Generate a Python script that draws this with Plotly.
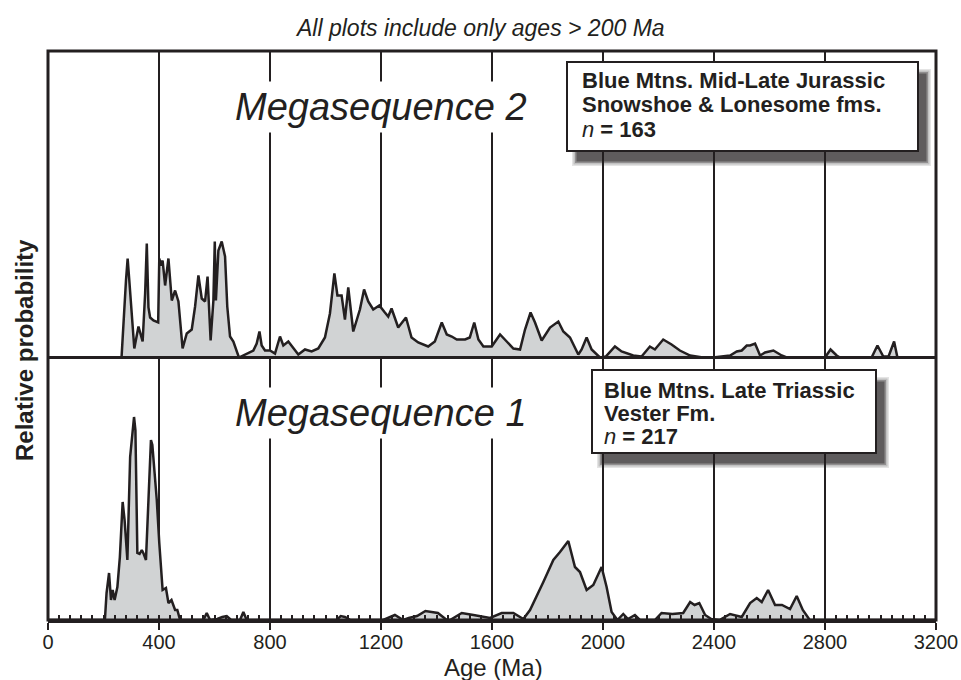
import plotly.graph_objects as go

# ---------------- data ----------------
top_age = [0, 265, 281, 287, 293, 311, 326, 332, 341, 350, 356, 362, 368, 380, 397, 401, 407, 413, 422, 434,
           446, 458, 470, 485, 500, 518, 530, 542, 554, 566, 575, 586, 596, 601, 605, 614, 626, 638, 646, 656,
           668, 688, 710, 740, 752, 762, 770, 782, 800, 818, 836, 848, 866, 884, 902, 926, 950, 974, 998, 1016,
           1032, 1043, 1058, 1070, 1082, 1100, 1124, 1139, 1154, 1172, 1194, 1214, 1226, 1238, 1262, 1290, 1310,
           1334, 1370, 1394, 1419, 1437, 1455, 1473, 1503, 1520, 1536, 1551, 1569, 1599, 1629, 1653, 1677, 1701,
           1719, 1739, 1755, 1779, 1809, 1839, 1857, 1881, 1911, 1923, 1941, 1959, 1989, 2010, 2043, 2067, 2109,
           2139, 2169, 2187, 2217, 2247, 2277, 2314, 2360, 2396, 2458, 2482, 2500, 2518, 2530, 2548, 2566, 2584,
           2614, 2644, 2662, 2800, 2820, 2842, 2854, 2968, 2989, 3010, 3029, 3049, 3061, 3200]
top_prob = [0, 0, 77, 99, 77, 9, 31, 24, 16, 64, 114, 50, 40, 37, 35, 99, 92, 97, 72, 99,
            57, 67, 56, 9, 24, 28, 51, 82, 59, 56, 81, 17, 57, 116, 57, 107, 116, 101, 51, 21,
            16, 0, 3, 7, 14, 26, 12, 7, 7, 4, 21, 12, 16, 9, 3, 8, 6, 9, 20, 44,
            84, 62, 62, 38, 70, 26, 48, 68, 56, 48, 52, 45, 41, 49, 30, 40, 20,
            15, 11, 16, 35, 23, 21, 18, 18, 20, 35, 18, 11, 11, 23, 16, 9, 8,
            28, 45, 35, 17, 30, 36, 26, 20, 3, 8, 20, 8, 0, 1, 11, 6, 2,
            1, 11, 8, 18, 13, 7, 2, 0, 0, 2, 6, 7, 12, 12, 14, 2, 5,
            7, 2, 0, 0, 8, 2, 0, 0, 12, 1, 1, 16, 0, 0]

bot_age = [0, 205, 211, 220, 227, 233, 240, 250, 259, 269, 276, 286, 296, 303, 310, 315, 322, 330, 338, 345,
           353, 362, 371, 376, 392, 401, 413, 425, 434, 445, 458, 466, 476, 560, 572, 584, 610, 628, 644, 660,
           692, 704, 716, 1040, 1055, 1070, 1090, 1208, 1250, 1280, 1300, 1330, 1360, 1405, 1437, 1449, 1491,
           1533, 1569, 1593, 1635, 1677, 1713, 1737, 1785, 1821, 1845, 1875, 1899, 1917, 1941, 1965, 1995, 2013,
           2031, 2052, 2073, 2090, 2115, 2133, 2187, 2211, 2250, 2289, 2314, 2330, 2347, 2368, 2390, 2420, 2458,
           2500, 2530, 2554, 2572, 2595, 2620, 2645, 2674, 2698, 2720, 2745, 3200]
bot_prob = [0, 0, 27, 47, 20, 30, 20, 33, 63, 118, 100, 60, 163, 180, 203, 190, 67, 66, 70, 66,
            60, 120, 180, 175, 120, 77, 30, 32, 17, 20, 10, 10, 0, 0, 7, 0, 1, 3, 4, 0,
            0, 8, 0, 0, 4, 3, 0, 0, 5, 0, 2, 4, 9, 7, 0, 0, 7,
            5, 3, 2, 7, 7, 1, 10, 38, 60, 68, 79, 53, 48, 30, 35, 53, 33,
            8, 0, 6, 1, 5, 0, 0, 7, 6, 7, 18, 15, 17, 5, 1, 0, 6,
            3, 17, 22, 18, 30, 15, 15, 11, 24, 10, 0, 0]

tick_vals = [0, 400, 800, 1200, 1600, 2000, 2400, 2800, 3200]
tick_text = ["0", "400", "800", "1200", "1600", "2000", "2400", "2800", "3200"]

title_text = "<i>All plots include only ages > 200 Ma</i>"
x_title = "Age (Ma)"
y_title = "<b>Relative probability</b>"
panel_labels = ["Megasequence 2", "Megasequence 1"]
box_top_lines = ["<b>Blue Mtns. Mid-Late Jurassic</b>", "<b>Snowshoe & Lonesome fms.</b>", "<i>n</i><b> = 163</b>"]
box_bot_lines = ["<b>Blue Mtns. Late Triassic</b>", "<b>Vester Fm.</b>", "<i>n</i><b> = 217</b>"]

# ---------------- layout geometry (window pixels) ----------------
W, H = 961, 680
L, R, T, B = 48, 936, 51, 620
MID = 357.5
split = (B - MID) / (B - T)
INK = "#231f20"
FILL = "#d1d3d4"
FONT = "Liberation Sans, Arial, Helvetica, sans-serif"


def px(xp):
    return (xp - L) / (R - L)


def py(yp):
    return (B - yp) / (B - T)


fig = go.Figure()
fig.add_trace(go.Scatter(x=top_age, y=top_prob, xaxis="x", yaxis="y2", mode="lines",
                         fill="tozeroy", fillcolor=FILL, line=dict(color=INK, width=2.5),
                         hoverinfo="skip", showlegend=False))
fig.add_trace(go.Scatter(x=bot_age, y=bot_prob, xaxis="x", yaxis="y", mode="lines",
                         fill="tozeroy", fillcolor=FILL, line=dict(color=INK, width=2.5),
                         hoverinfo="skip", showlegend=False))

shapes = []
# frame and middle divider
shapes.append(dict(type="rect", xref="paper", yref="paper", x0=0, x1=1, y0=0, y1=1,
                   line=dict(color=INK, width=3), layer="above"))
shapes.append(dict(type="line", xref="paper", yref="paper", x0=0, x1=1, y0=split, y1=split,
                   line=dict(color=INK, width=3), layer="above"))


def add_box(x0, y0, x1, y1):
    # blurred drop shadow
    for grow, op in [(4, 0.12), (2.5, 0.18), (1, 0.3), (-0.5, 0.45)]:
        shapes.append(dict(type="rect", xref="paper", yref="paper",
                           x0=px(x0 + 9 - grow), x1=px(x1 + 9 + grow),
                           y0=py(y1 + 11 + grow), y1=py(y0 + 11 - grow),
                           line=dict(width=0), fillcolor="rgba(35,31,32,%s)" % op, layer="above"))
    shapes.append(dict(type="rect", xref="paper", yref="paper",
                       x0=px(x0), x1=px(x1), y0=py(y1), y1=py(y0),
                       line=dict(color=INK, width=2), fillcolor="white", layer="above"))


add_box(567, 62, 918, 151)
add_box(592, 370, 876, 453)

annotations = []
annotations.append(dict(text=title_text, xref="paper", yref="paper", x=px(480), y=py(28),
                        showarrow=False, xanchor="center", yanchor="middle",
                        font=dict(family=FONT, size=23, color=INK)))
annotations.append(dict(text=y_title, xref="paper", yref="paper",
                        x=px(24), y=py(350), textangle=-90, showarrow=False,
                        xanchor="center", yanchor="middle",
                        font=dict(family=FONT, size=24, color=INK)))
annotations.append(dict(text=x_title, xref="paper", yref="paper",
                        x=px(493), y=py(667), showarrow=False,
                        xanchor="center", yanchor="middle",
                        font=dict(family=FONT, size=24, color=INK)))
for lab, yc in zip(panel_labels, [107, 413]):
    annotations.append(dict(text="<i>%s</i>" % lab, xref="paper", yref="paper", x=px(381), y=py(yc),
                            showarrow=False, xanchor="center", yanchor="middle", bgcolor="white",
                            borderpad=4, font=dict(family=FONT, size=38, color=INK)))
for lines, x0, baselines in [(box_top_lines, 580, [88, 112.5, 137]), (box_bot_lines, 602, [398, 421, 444])]:
    for ln, bl in zip(lines, baselines):
        annotations.append(dict(text=ln, xref="paper", yref="paper", x=px(x0), y=py(bl - 7.5),
                                showarrow=False, xanchor="left", yanchor="middle",
                                font=dict(family=FONT, size=22, color=INK)))

fig.update_layout(
    width=W, height=H,
    margin=dict(l=L, r=W - R, t=T, b=H - B, pad=0, autoexpand=False),
    paper_bgcolor="white", plot_bgcolor="white",
    font=dict(family=FONT, color=INK),
    xaxis=dict(range=[0, 3200], tickmode="array", tickvals=tick_vals, ticktext=tick_text,
               showgrid=True, gridcolor=INK, gridwidth=1.8, zeroline=False,
               ticks="outside", ticklen=7, tickwidth=2, tickcolor=INK, ticklabelstandoff=-5,
               minor=dict(tickmode="linear", tick0=0, dtick=40, ticks="inside", ticklen=5,
                          tickwidth=1.8, tickcolor=INK, showgrid=False),
               showline=True, linecolor=INK, linewidth=3, automargin=False,
               tickfont=dict(family=FONT, size=20, color=INK),
               anchor="y", fixedrange=True),
    yaxis=dict(domain=[0, split], range=[0, B - MID], visible=False, fixedrange=True, automargin=False),
    yaxis2=dict(domain=[split, 1], range=[0, MID - T], visible=False, fixedrange=True, automargin=False),
    shapes=shapes, annotations=annotations, showlegend=False,
)

fig.write_html("out.html", config={"displayModeBar": False},
               post_script="document.body.style.margin='0';document.body.style.overflow='hidden';")
